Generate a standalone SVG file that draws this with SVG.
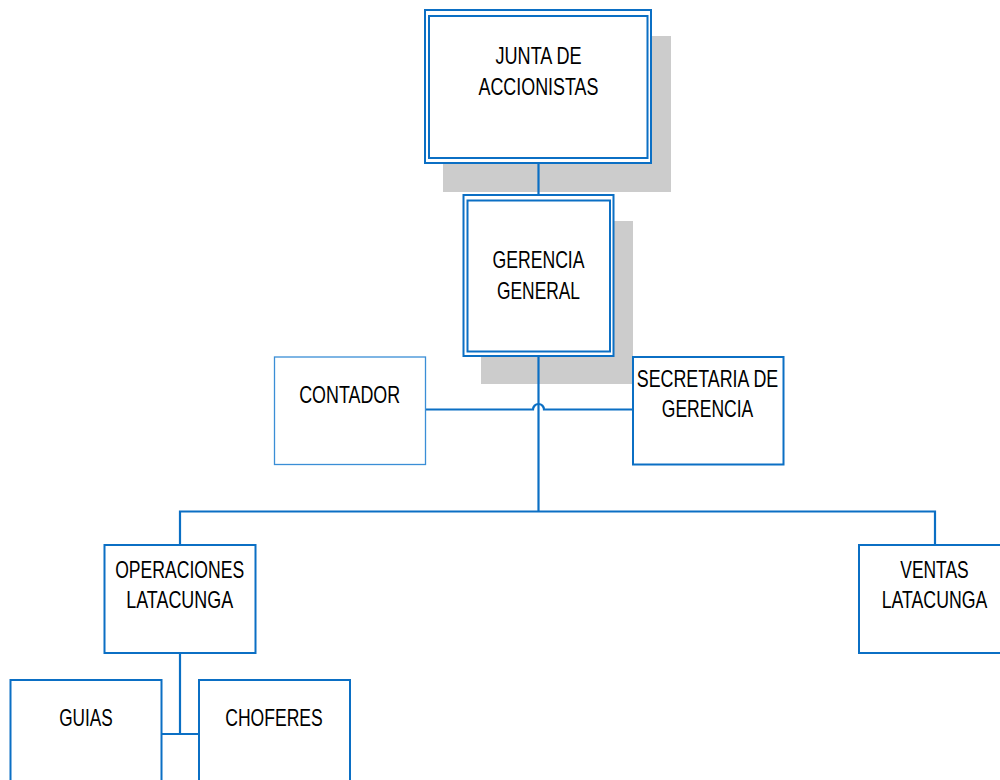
<svg xmlns="http://www.w3.org/2000/svg" width="1000" height="780" viewBox="0 0 1000 780">
  <style>
    .shadow { fill: #cccccc; }
    .box { fill: #ffffff; stroke: #0b6fc4; stroke-width: 2; }
    .inner { fill: none; stroke: #0b6fc4; stroke-width: 2; }
    .thin { fill: #ffffff; stroke: #3a8ed6; stroke-width: 1.3; }
    .wire { fill: none; stroke: #0b6fc4; stroke-width: 2.2; }
    text { font-family: "Liberation Sans", Arial, sans-serif; font-size: 24px; fill: #000000; text-anchor: middle; }
  </style>

  <rect width="1000" height="780" fill="#ffffff"/>

  <!-- drop shadows behind the two top boxes -->
  <rect class="shadow" x="443" y="36" width="228" height="156"/>
  <rect class="shadow" x="481" y="221" width="152" height="163"/>

  <!-- connectors -->
  <g id="connectors">
    <line class="wire" x1="538.5" y1="163" x2="538.5" y2="195"/>
    <line class="wire" x1="538.5" y1="356" x2="538.5" y2="511.5"/>
    <path class="wire" d="M425,409.5 H533 A5.5,5.5 0 0 1 544,409.5 H633"/>
    <path class="wire" d="M180,545 V511.5 H935 V545"/>
    <path class="wire" d="M180,653 V734"/>
    <line class="wire" x1="161" y1="734" x2="199" y2="734"/>
  </g>

  <g id="junta">
    <rect class="box" x="425" y="10" width="226" height="153"/>
    <rect class="inner" x="429" y="16" width="218.5" height="142"/>
    <text x="538.5" y="64" textLength="86" lengthAdjust="spacingAndGlyphs">JUNTA DE</text>
    <text x="538.5" y="94.5" textLength="120" lengthAdjust="spacingAndGlyphs">ACCIONISTAS</text>
  </g>

  <g id="gerencia">
    <rect class="box" x="463.5" y="195" width="150" height="161"/>
    <rect class="inner" x="467.5" y="200.5" width="142.5" height="151"/>
    <text x="538.5" y="267.5" textLength="92" lengthAdjust="spacingAndGlyphs">GERENCIA</text>
    <text x="538.5" y="299" textLength="83" lengthAdjust="spacingAndGlyphs">GENERAL</text>
  </g>

  <g id="contador">
    <rect class="thin" x="274.5" y="357" width="151" height="107.5"/>
    <text x="349.7" y="402.5" textLength="101" lengthAdjust="spacingAndGlyphs">CONTADOR</text>
  </g>

  <g id="secretaria">
    <rect class="box" x="633" y="357" width="150.5" height="107.5"/>
    <text x="707.5" y="387" textLength="141.5" lengthAdjust="spacingAndGlyphs">SECRETARIA DE</text>
    <text x="707.5" y="417" textLength="91.5" lengthAdjust="spacingAndGlyphs">GERENCIA</text>
  </g>

  <g id="operaciones">
    <rect class="box" x="104.5" y="545" width="151" height="108"/>
    <text x="179.7" y="578" textLength="129" lengthAdjust="spacingAndGlyphs">OPERACIONES</text>
    <text x="179.7" y="608" textLength="107" lengthAdjust="spacingAndGlyphs">LATACUNGA</text>
  </g>

  <g id="ventas">
    <rect class="box" x="859" y="545" width="151" height="108"/>
    <text x="934.5" y="578" textLength="68.5" lengthAdjust="spacingAndGlyphs">VENTAS</text>
    <text x="934.5" y="608" textLength="105.5" lengthAdjust="spacingAndGlyphs">LATACUNGA</text>
  </g>

  <g id="guias">
    <rect class="box" x="10.5" y="680" width="151" height="120"/>
    <text x="86" y="726" textLength="53.5" lengthAdjust="spacingAndGlyphs">GUIAS</text>
  </g>

  <g id="choferes">
    <rect class="box" x="199" y="680" width="151" height="120"/>
    <text x="274" y="726" textLength="97.5" lengthAdjust="spacingAndGlyphs">CHOFERES</text>
  </g>
</svg>
